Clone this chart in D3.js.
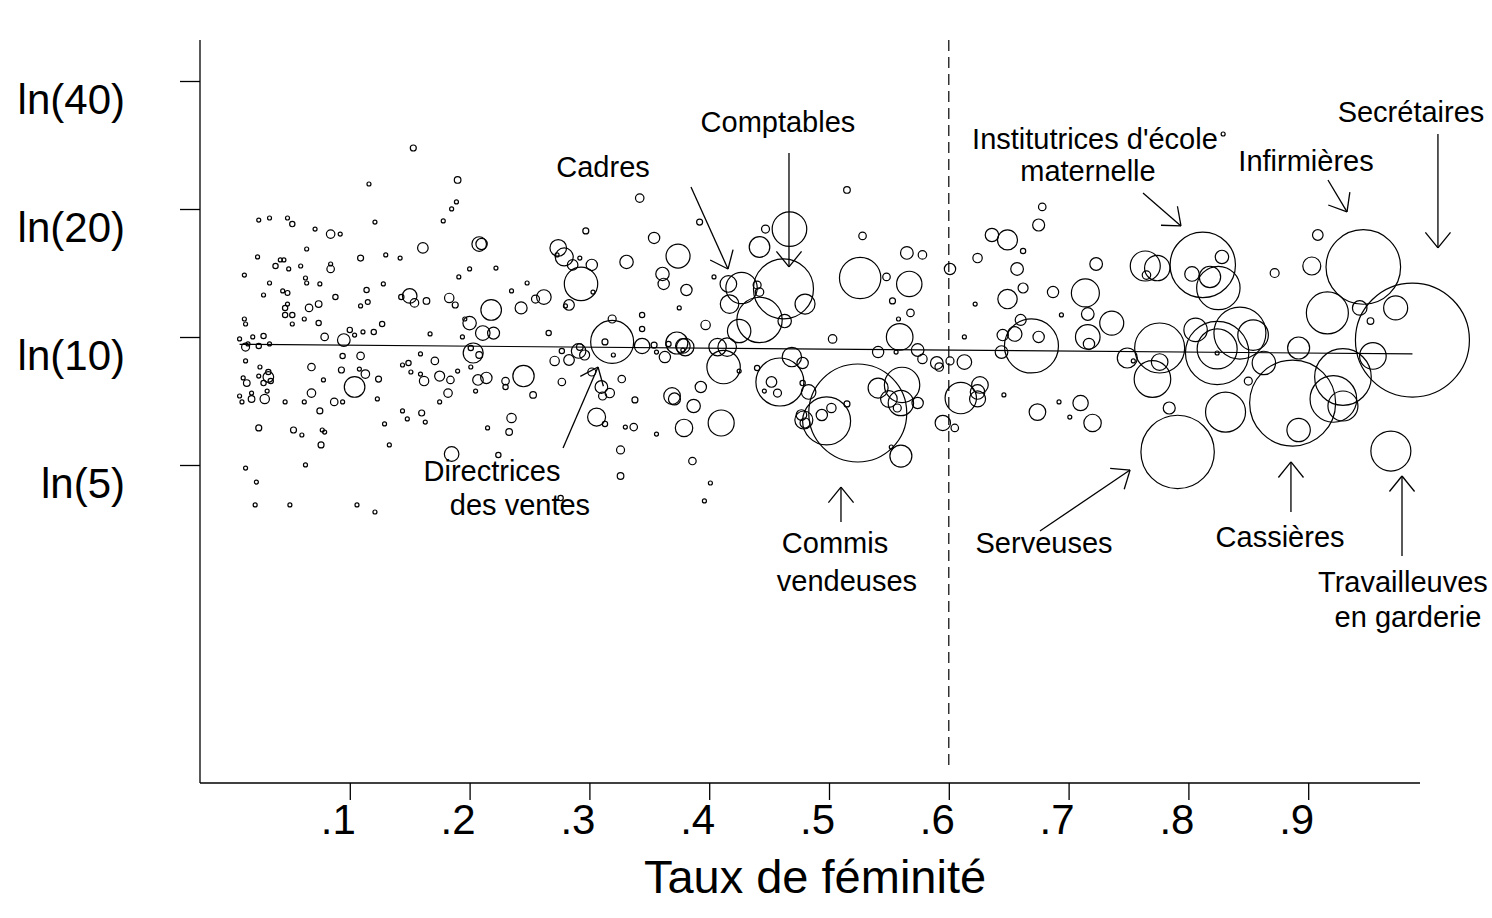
<!DOCTYPE html>
<html>
<head>
<meta charset="utf-8">
<script src="https://cdn.jsdelivr.net/npm/d3@7"></script>
<style>
  body { margin: 0; background: #fff; }
  svg { font-family: "Liberation Sans", Arial, sans-serif; }
</style>
</head>
<body>
<div id="chart"></div>
<script>
// occupations: share of women (fem), log hourly wage (lnWage), employment (emp)
const fem = [
  // fem < .18
  .153,.116,.024,.033,.048,.052,.071,.121,.084,.092,
  .161,.023,.064,.042,.045,.038,.049,.059,.084,.084,
  .109,.130,.142,.012,.033,.063,.064,.075,.044,.048,
  .028,.088,.114,.128,.150,.143,.154,.164,.048,.046,
  .046,.052,.066,.074,.109,.115,.012,.013,.052,.062,
  .074,.100,.120,.127,.111,.167,.008,.019,.028,.013,
  .015,.024,.033,.079,.095,.104,.013,.025,.032,.032,
  .034,.011,.024,.014,.028,.031,.008,.010,.018,.018,
  .029,.046,.062,.068,.078,.068,.075,.087,.094,.094,
  .109,.093,.108,.113,.104,.124,.123,.024,.053,.060,
  .077,.079,.076,.129,.133,.013,.022,.063,.021,.050,
  .106,.121,.159,.144,.149,.151,.159,.162,.171,.175,
  .144,.148,.160,.163,.175,
  // .18 - .35
  .190,.189,.185,.178,.208,.210,.200,.191,.222,.248,
  .235,.183,.188,.218,.243,.255,.262,.274,.279,.273,
  .286,.292,.302,.293,.303,.283,.280,.297,.342,.331,
  .344,.319,.200,.196,.211,.220,.194,.203,.201,.208,
  .190,.201,.184,.182,.207,.214,.205,.230,.230,.245,
  .253,.235,.233,.215,.224,.185,.266,.319,.313,.320,
  .344,.344,.291,.292,.296,.283,.277,.271,.277,.302,
  .310,.317,.311,.327,.338,.306,.313,.330,.337,.326,
  .326,.276,
  // .35 - .53
  .392,.354,.374,.361,.362,.381,.375,.404,.416,.427,
  .417,.425,.397,.447,.467,.442,.462,.480,.440,.442,
  .463,.442,.515,.526,.354,.356,.363,.366,.373,.378,
  .380,.378,.407,.415,.412,.425,.393,.369,.371,.387,
  .410,.379,.356,.386,.401,.396,.503,.440,.459,.452,
  .457,.446,.469,.478,.478,.483,.498,.502,.494,.515,
  .477,.479,.480,.524,
  // .53 - .70
  .528,.548,.565,.578,.567,.553,.568,.558,.559,.601,
  .622,.624,.636,.649,.662,.678,.675,.657,.662,.649,
  .687,.694,.660,.541,.556,.574,.578,.590,.592,.601,
  .613,.613,.541,.561,.550,.560,.557,.574,.552,.560,
  .595,.605,.610,.626,.624,.624,.646,.644,.645,.655,
  .675,.669,.674,.692,.701,
  // .70 - .88
  .829,.723,.714,.716,.736,.764,.774,.765,.812,.828,
  .803,.818,.825,.872,.716,.717,.749,.754,.776,.776,
  .770,.710,.720,.784,.791,.806,.824,.824,.854,.824,
  .863,.850,.831,.843,
  // .88 +
  .908,.903,.946,.916,.943,.973,.952,.987,.892,.929,
  .954,.887,.921,.929,.892,.969
];
const lnWage = [
  3.326,3.131,2.936,2.947,2.947,2.914,2.887,2.925,2.860,2.860,
  2.785,2.736,2.779,2.720,2.720,2.687,2.671,2.687,2.698,2.671,
  2.730,2.747,2.730,2.638,2.595,2.622,2.595,2.590,2.552,2.541,
  2.530,2.519,2.557,2.590,2.525,2.519,2.487,2.498,2.481,2.460,
  2.422,2.422,2.460,2.481,2.471,2.492,2.400,2.373,2.373,2.400,
  2.378,2.341,2.330,2.373,2.330,2.319,2.292,2.303,2.308,2.248,
  2.265,2.254,2.265,2.303,2.286,2.313,2.173,2.140,2.113,2.086,
  2.064,2.081,2.091,2.053,2.053,2.010,1.983,1.951,1.999,1.967,
  1.967,1.951,1.951,2.140,2.070,1.999,1.902,1.951,1.951,2.200,
  2.200,2.124,2.129,2.102,2.032,2.075,1.967,1.810,1.799,1.772,
  1.799,1.788,1.718,1.832,1.718,1.593,1.517,1.610,1.393,1.393,
  1.393,1.355,2.211,2.151,2.162,2.113,2.102,2.064,2.173,2.091,
  1.902,1.859,1.891,1.842,1.951,

  3.153,3.034,2.996,2.931,2.806,2.806,2.671,2.628,2.676,2.595,
  2.552,2.514,2.476,2.449,2.460,2.508,2.519,2.785,2.736,2.747,
  2.693,2.730,2.693,2.590,2.546,2.476,2.471,2.877,3.055,2.709,
  2.422,2.400,2.378,2.400,2.324,2.324,2.303,2.216,2.243,2.205,
  2.118,2.140,2.070,1.999,2.070,2.081,2.010,2.064,2.032,2.091,
  1.989,1.864,1.788,1.810,1.664,1.669,2.324,2.276,2.276,2.205,
  2.254,2.346,2.227,2.248,2.205,2.178,2.227,2.173,2.059,2.113,
  2.032,1.999,1.983,2.075,1.962,1.869,1.832,1.815,1.815,1.691,
  1.550,1.431,

  2.925,2.839,2.741,2.644,2.590,2.557,2.460,2.628,2.590,2.568,
  2.481,2.335,2.368,2.887,2.887,2.790,2.563,2.481,2.584,2.546,
  2.389,2.395,3.099,2.622,2.259,2.221,2.194,2.265,2.270,2.254,
  2.248,2.232,2.248,2.248,2.140,2.118,2.032,1.983,1.967,1.929,
  1.837,1.810,1.777,1.631,1.512,1.415,2.292,2.135,2.059,2.059,
  1.999,2.010,2.194,2.162,2.053,2.005,1.848,1.918,1.880,1.940,
  1.880,1.853,1.837,1.891,

  2.850,2.628,2.758,2.747,2.590,2.498,2.433,2.400,2.303,2.671,
  2.481,2.730,2.855,2.828,2.768,3.007,2.909,2.671,2.568,2.508,
  2.546,2.422,2.395,2.221,2.221,2.232,2.184,2.162,2.140,2.173,
  2.167,2.303,2.026,2.043,1.967,1.945,1.918,1.945,1.707,1.658,
  1.837,1.810,1.972,2.043,2.005,1.967,1.989,2.221,2.313,2.319,
  2.303,2.254,1.896,1.951,1.869,

  3.402,2.698,2.541,2.427,2.378,2.687,2.676,2.638,2.693,2.736,
  2.644,2.628,2.568,2.649,2.303,2.265,2.189,2.173,2.243,2.167,
  2.075,1.945,1.837,1.918,1.680,2.341,2.216,2.238,2.313,2.216,
  2.162,2.064,1.896,2.324,

  2.855,2.687,2.682,2.433,2.460,2.460,2.389,2.286,2.243,2.086,
  2.200,1.945,1.967,1.929,1.799,1.685
];
const emp = [
  9,4,4,4,4,7,4,4,18,4,
  28,4,4,4,4,7,4,4,4,14,
  9,4,4,4,4,4,4,4,4,6,
  4,7,7,4,53,7,18,11,4,7,
  7,7,14,11,4,6,4,4,4,4,
  7,7,7,7,4,4,4,4,7,16,
  4,7,4,14,40,4,4,4,7,28,
  7,4,4,11,7,4,4,4,4,11,
  22,4,4,14,4,18,9,14,4,7,
  14,9,4,18,106,9,4,9,9,4,
  4,4,9,4,4,4,4,4,4,4,
  4,4,4,4,7,4,4,22,14,25,
  4,4,9,4,4,

  11,4,4,4,53,32,4,4,4,4,
  4,22,9,106,36,16,53,69,81,4,
  28,4,32,279,4,28,4,9,18,45,
  7,16,45,4,53,36,4,100,7,11,
  4,4,14,18,28,32,4,14,7,114,
  11,22,11,4,7,53,7,462,9,4,
  59,7,53,11,25,28,7,22,14,16,
  40,22,16,14,9,81,7,4,14,16,
  11,7,

  9,32,144,45,32,32,4,4,69,246,
  86,137,22,16,299,106,900,100,16,18,
  45,515,11,428,9,4,32,7,121,53,
  76,4,76,86,279,4,32,69,36,45,
  169,76,4,14,4,4,18,7,576,28,
  16,4,94,32,7,53,576,22,32,9,
  28,81,25,2401,

  14,14,40,18,161,9,14,4,177,32,
  4,22,45,100,7,14,36,40,25,94,
  32,4,30,32,4,40,22,40,18,16,
  53,4,100,313,69,161,16,32,4,121,
  59,14,246,69,53,64,4,40,32,53,
  32,729,69,4,4,

  4,40,196,40,144,225,161,18,1069,45,
  53,114,471,20,151,32,100,4,625,69,
  335,59,76,36,1347,137,1005,400,234,4,
  137,16,400,676,

  28,81,1391,441,53,144,11,3249,121,801,
  177,1849,543,225,137,400
];

const xTicks = [.1, .2, .3, .4, .5, .6, .7, .8, .9];
const xTickLabels = [".1", ".2", ".3", ".4", ".5", ".6", ".7", ".8", ".9"];
const yTicks = [5, 10, 20, 40];
const yTickLabels = ["ln(5)", "ln(10)", "ln(20)", "ln(40)"];
const fitFem = [0.008, 0.987];
const fitLnWage = [2.263, 2.211];
const cutoff = 0.6;

const width = 1492, height = 918;
const svg = d3.select("#chart").append("svg")
    .attr("width", width)
    .attr("height", height);

const x = d3.scaleLinear().domain([0, 1]).range([230, 1428]);
const y = d3.scaleLinear().domain([Math.log(5), Math.log(40)]).range([465, 81]);
const r = d3.scaleSqrt().domain([0, 3249]).range([0, 57]);

// frame
svg.append("line").attr("x1", 200).attr("x2", 200).attr("y1", 40).attr("y2", 783)
    .attr("stroke", "#000").attr("stroke-width", 1.3);
svg.append("line").attr("x1", 200).attr("x2", 1420).attr("y1", 783).attr("y2", 783)
    .attr("stroke", "#000").attr("stroke-width", 1.3);

const yAxis = svg.append("g")
    .attr("transform", "translate(200,0)")
    .call(d3.axisLeft(y)
        .tickValues(yTicks.map(Math.log))
        .tickFormat((d, i) => yTickLabels[i])
        .tickSize(20)
        .tickPadding(55));
yAxis.select(".domain").remove();
yAxis.selectAll("line").attr("stroke-width", 1.3);
yAxis.selectAll("text")
    .attr("font-size", 42)
    .attr("font-family", "Liberation Sans, Arial, sans-serif")
    .attr("dy", "0.78em");

const xAxis = svg.append("g")
    .attr("transform", "translate(0,783)")
    .call(d3.axisBottom(x)
        .tickValues(xTicks)
        .tickFormat((d, i) => xTickLabels[i])
        .tickSize(17)
        .tickPadding(4));
xAxis.select(".domain").remove();
xAxis.selectAll("line").attr("stroke-width", 1.3);
xAxis.selectAll("text")
    .attr("font-size", 42)
    .attr("font-family", "Liberation Sans, Arial, sans-serif")
    .attr("dx", -12);

svg.append("text")
    .attr("x", 815)
    .attr("y", 893)
    .attr("text-anchor", "middle")
    .attr("font-size", 47)
    .text("Taux de féminité");

// cutoff at 60% women
svg.append("line")
    .attr("x1", x(cutoff)).attr("x2", x(cutoff))
    .attr("y1", 40).attr("y2", 765)
    .attr("stroke", "#000")
    .attr("stroke-width", 1.2)
    .attr("stroke-dasharray", "11,6");

// fitted line
const fitLine = d3.line().x(d => x(d[0])).y(d => y(d[1]));
svg.append("path")
    .datum(fitFem.map((f, i) => [f, fitLnWage[i]]))
    .attr("d", fitLine)
    .attr("fill", "none")
    .attr("stroke", "#000")
    .attr("stroke-width", 1.2);

const points = fem.map((f, i) => ({fem: f, lnWage: lnWage[i], emp: emp[i]}));
svg.append("g").selectAll("circle")
    .data(points)
    .enter()
    .append("circle")
    .attr("cx", d => x(d.fem))
    .attr("cy", d => y(d.lnWage))
    .attr("r", d => r(d.emp))
    .attr("fill", "none")
    .attr("stroke", "#000")
    .attr("stroke-width", 1.2);

// labels and arrows, placed in data units
const notes = [
  {lines: ["Comptables"], fem: .4574, ln: 3.413, from: [.4666, 3.299], to: [.4666, 2.682]},
  {lines: ["Cadres"], fem: .3114, ln: 3.169, from: [.3848, 3.115], to: [.4157, 2.671]},
  {lines: ["Institutrices d'école", "maternelle"], fem: .7220, ln: 3.321, from: [.7621, 3.082], to: [.7938, 2.904]},
  {lines: ["Infirmières"], fem: .8982, ln: 3.202, from: [.9165, 3.153], to: [.9324, 2.980]},
  {lines: ["Secrétaires"], fem: .9858, ln: 3.467, from: [1.0083, 3.402], to: [1.0083, 2.785]},
  {lines: ["Directrices", "des ventes"], fem: .2187, ln: 1.523, from: [.2780, 1.702], to: [.3072, 2.140]},
  {lines: ["Commis", "vendeuses"], fem: .5050, ln: 1.133, from: [.5100, 1.301], to: [.5100, 1.490]},
  {lines: ["Serveuses"], fem: .6795, ln: 1.133, from: [.6761, 1.252], to: [.7513, 1.582]},
  {lines: ["Cassières"], fem: .8765, ln: 1.165, from: [.8856, 1.355], to: [.8856, 1.626]},
  {lines: ["Travailleuves", "en garderie"], fem: .9791, ln: 0.922, from: [.9783, 1.117], to: [.9783, 1.550]}
];
const lineOffsets = {"maternelle": [-7, 32], "des ventes": [28, 34], "vendeuses": [12, 38], "en garderie": [5, 35]};

const ann = svg.append("g");
notes.forEach(n => {
  n.lines.forEach((t, i) => {
    const off = i === 0 ? [0, 0] : lineOffsets[t];
    ann.append("text")
        .attr("x", x(n.fem) + off[0])
        .attr("y", y(n.ln) + off[1])
        .attr("text-anchor", "middle")
        .attr("font-size", 29)
        .text(t);
  });
  const x1 = x(n.from[0]), y1 = y(n.from[1]), x2 = x(n.to[0]), y2 = y(n.to[1]);
  ann.append("line")
      .attr("x1", x1).attr("y1", y1).attr("x2", x2).attr("y2", y2)
      .attr("stroke", "#000").attr("stroke-width", 1.3);
  const a = Math.atan2(y2 - y1, x2 - x1);
  const head = 20, spread = 0.68;
  [a + Math.PI - spread, a + Math.PI + spread].forEach(b => {
    ann.append("line")
        .attr("x1", x2).attr("y1", y2)
        .attr("x2", x2 + head * Math.cos(b)).attr("y2", y2 + head * Math.sin(b))
        .attr("stroke", "#000").attr("stroke-width", 1.3);
  });
});
</script>
</body>
</html>
